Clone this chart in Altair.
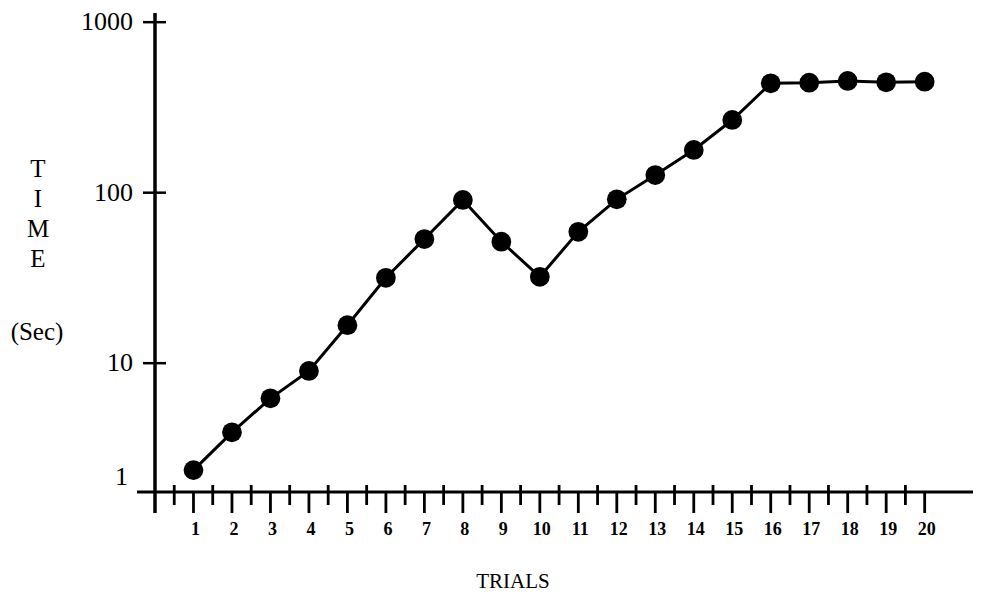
import altair as alt
import pandas as pd

# ---- data ----
trials = list(range(1, 21))
times = [2.36, 3.93, 6.22, 9.0, 16.7, 31.7, 53.5, 90.6, 51.6, 32.1,
         59.0, 91.4, 126.9, 178.0, 266.9, 438.0, 441.6, 451.9, 444.0, 447.7]

y_tick_values = [10, 100, 1000]
y_tick_labels = ["10", "100", "1000"]
x_major_ticks = list(range(1, 21))
x_minor_ticks = [0.5, 1.5, 2.5, 3.5, 4.5, 5.5, 6.5, 7.5, 8.5, 9.5,
                 10.5, 11.5, 12.5, 13.5, 14.5, 15.5, 16.5, 17.5, 18.5, 19.5]
x_labels = [str(t) for t in trials]

W, H = 812, 479
FONT = "Liberation Serif"

xs = alt.Scale(domain=[0, 21.1], nice=False, zero=False)
ys = alt.Scale(type="log", domain=[1.756, 1132], nice=False)

df = pd.DataFrame({"trial": trials, "time": times})
ytick_df = pd.DataFrame({"v": y_tick_values, "label": y_tick_labels})
xmaj_df = pd.DataFrame({"t": x_major_ticks, "label": x_labels})
xmin_df = pd.DataFrame({"t": x_minor_ticks})

X = alt.X("trial:Q", scale=xs, axis=None)
Y = alt.Y("time:Q", scale=ys, axis=None)

line = alt.Chart(df).mark_line(color="black", strokeWidth=3).encode(x=X, y=Y)
points = alt.Chart(df).mark_circle(color="black", size=390, opacity=1).encode(x=X, y=Y)

# axes drawn by hand
y_axis = alt.Chart(pd.DataFrame({"a": [0]})).mark_rule(color="black", strokeWidth=3.5).encode(
    x=alt.value(0), y=alt.value(0), y2=alt.value(H + 21))
x_axis = alt.Chart(pd.DataFrame({"a": [0]})).mark_rule(color="black", strokeWidth=3).encode(
    x=alt.value(-18), x2=alt.value(W + 6), y=alt.value(H))

yticks = alt.Chart(ytick_df).mark_rule(color="black", strokeWidth=2.5).encode(
    x=alt.value(-12), x2=alt.value(11), y=alt.Y("v:Q", scale=ys, axis=None))
ylabels = alt.Chart(ytick_df).mark_text(
    font=FONT, fontSize=26, align="right", baseline="middle", color="black").encode(
    x=alt.value(-22), y=alt.Y("v:Q", scale=ys, axis=None), text="label:N")
one_label = alt.Chart(pd.DataFrame({"label": ["1"]})).mark_text(
    font=FONT, fontSize=26, align="right", baseline="middle", color="black").encode(
    x=alt.value(-27), y=alt.value(H - 15), text="label:N")

xmaj = alt.Chart(xmaj_df).mark_rule(color="black", strokeWidth=2.8).encode(
    x=alt.X("t:Q", scale=xs, axis=None), y=alt.value(H), y2=alt.value(H + 21))
xmin = alt.Chart(xmin_df).mark_rule(color="black", strokeWidth=2.8).encode(
    x=alt.X("t:Q", scale=xs, axis=None), y=alt.value(H - 7), y2=alt.value(H + 13))
xlabels = alt.Chart(xmaj_df).mark_text(
    font=FONT, fontSize=18, fontWeight="bold", align="center", baseline="middle",
    color="black", dx=2).encode(
    x=alt.X("t:Q", scale=xs, axis=None), y=alt.value(H + 38), text="label:N")

ytitle = alt.Chart(pd.DataFrame({"label": ["T\nI\nM\nE"]})).mark_text(
    font=FONT, fontSize=25, align="center", baseline="middle", lineBreak="\n",
    lineHeight=30, color="black").encode(
    x=alt.value(-117), y=alt.value(156), text="label:N")
ysub = alt.Chart(pd.DataFrame({"label": ["(Sec)"]})).mark_text(
    font=FONT, fontSize=25, align="center", baseline="middle", color="black").encode(
    x=alt.value(-118), y=alt.value(319), text="label:N")
xtitle = alt.Chart(pd.DataFrame({"label": ["TRIALS"]})).mark_text(
    font=FONT, fontSize=21, align="center", baseline="alphabetic", color="black").encode(
    x=alt.value(358), y=alt.value(H + 96), text="label:N")

chart = alt.layer(
    line, points, y_axis, x_axis, yticks, ylabels, one_label,
    xmaj, xmin, xlabels, ytitle, ysub, xtitle
).properties(
    width=W, height=H,
    autosize=alt.AutoSizeParams(type="none"),
    padding={"left": 147, "top": 5, "right": 6, "bottom": 100},
    background="white",
).configure_view(strokeWidth=0)

chart.save("out.html", embed_options={"renderer": "svg", "actions": False})
